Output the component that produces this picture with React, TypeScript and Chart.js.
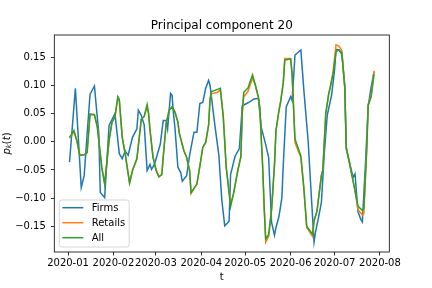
import React, { useEffect, useRef } from 'react';
import { Chart, registerables } from 'chart.js';

Chart.register(...registerables);

const TITLE = 'Principal component 20';
const X_LABEL = 't';
const SERIES_NAMES = ['Firms', 'Retails', 'All'];
const SERIES_COLORS = ['#1f77b4', '#ff7f0e', '#2ca02c'];
const X_TICK_LABELS = ['2020-01', '2020-02', '2020-03', '2020-04', '2020-05', '2020-06', '2020-07', '2020-08'];
const Y_TICKS = [-0.15, -0.1, -0.05, 0, 0.05, 0.1, 0.15];

const FIRMS_DATES = [
  '2020-01-02', '2020-01-06', '2020-01-10', '2020-01-12', '2020-01-16', '2020-01-19', '2020-01-22', '2020-01-23',
  '2020-01-26', '2020-01-29', '2020-02-02', '2020-02-05', '2020-02-07', '2020-02-09', '2020-02-11', '2020-02-14',
  '2020-02-17', '2020-02-18', '2020-02-20', '2020-02-22', '2020-02-24', '2020-02-26', '2020-02-27', '2020-02-29',
  '2020-03-02', '2020-03-04', '2020-03-06', '2020-03-08', '2020-03-09', '2020-03-11', '2020-03-12', '2020-03-13',
  '2020-03-14', '2020-03-16', '2020-03-18', '2020-03-19', '2020-03-22', '2020-03-24', '2020-03-27', '2020-03-29',
  '2020-03-31', '2020-04-02', '2020-04-04', '2020-04-06', '2020-04-07', '2020-04-10', '2020-04-13', '2020-04-15',
  '2020-04-17', '2020-04-20', '2020-04-21', '2020-04-24', '2020-04-27', '2020-04-29', '2020-05-02', '2020-05-04',
  '2020-05-07', '2020-05-09', '2020-05-10', '2020-05-12', '2020-05-15', '2020-05-17', '2020-05-19', '2020-05-21',
  '2020-05-22', '2020-05-24', '2020-05-26', '2020-05-27', '2020-05-29', '2020-06-01', '2020-06-02', '2020-06-04',
  '2020-06-08', '2020-06-10', '2020-06-13', '2020-06-15', '2020-06-17', '2020-06-18', '2020-06-20', '2020-06-22',
  '2020-06-24', '2020-06-26', '2020-06-29', '2020-07-01', '2020-07-02', '2020-07-04', '2020-07-06', '2020-07-08',
  '2020-07-09', '2020-07-13', '2020-07-14', '2020-07-15', '2020-07-17', '2020-07-19', '2020-07-20', '2020-07-22',
  '2020-07-24', '2020-07-26', '2020-07-28',
];
const FIRMS_VALUES = [
  -0.036, 0.095, -0.081, -0.06, 0.084, 0.099, 0.014, -0.09,
  -0.099, 0.029, 0.05, -0.021, -0.03, -0.016, -0.024, 0.008,
  0.023, 0.056, 0.047, 0.03, -0.051, -0.04, -0.049, -0.04,
  -0.022, -0.004, 0.038, 0.038, 0.023, 0.086, 0.083, 0.05,
  0.025, -0.045, -0.055, -0.07, -0.06, -0.024, 0.017, 0.017,
  0.068, 0.07, 0.095, 0.109, 0.1, 0.035, -0.024, -0.103,
  -0.149, -0.141, -0.058, -0.026, -0.012, 0.064, 0.068, 0.071,
  0.076, 0.077, 0.076, 0.025, -0.005, -0.028, -0.143, -0.166,
  -0.152, -0.133, -0.1, -0.04, 0.062, 0.08, 0.073, 0.154,
  0.163, 0.093, 0.0, -0.09, -0.178, -0.16, -0.135, -0.108,
  -0.02, 0.047, 0.083, 0.127, 0.164, 0.163, 0.155, 0.1,
  -0.012, -0.056, -0.062, -0.057, -0.124, -0.138, -0.142, -0.045,
  0.064, 0.097, 0.125,
];

const AGG_DATES = [
  '2020-01-02', '2020-01-05', '2020-01-07', '2020-01-09', '2020-01-12', '2020-01-14', '2020-01-16', '2020-01-19',
  '2020-01-21', '2020-01-24', '2020-01-26', '2020-01-29', '2020-01-31', '2020-02-02', '2020-02-04', '2020-02-05',
  '2020-02-07', '2020-02-09', '2020-02-12', '2020-02-14', '2020-02-17', '2020-02-18', '2020-02-20', '2020-02-22',
  '2020-02-24', '2020-02-25', '2020-02-26', '2020-02-28', '2020-03-01', '2020-03-03', '2020-03-05', '2020-03-06',
  '2020-03-08', '2020-03-10', '2020-03-12', '2020-03-14', '2020-03-16', '2020-03-17', '2020-03-20', '2020-03-22',
  '2020-03-24', '2020-03-25', '2020-03-29', '2020-03-31', '2020-04-02', '2020-04-04', '2020-04-06', '2020-04-07',
  '2020-04-08', '2020-04-12', '2020-04-14', '2020-04-16', '2020-04-18', '2020-04-21', '2020-04-23', '2020-04-26',
  '2020-04-28', '2020-04-29', '2020-04-30', '2020-05-03', '2020-05-04', '2020-05-06', '2020-05-08', '2020-05-10',
  '2020-05-11', '2020-05-13', '2020-05-14', '2020-05-15', '2020-05-17', '2020-05-19', '2020-05-21', '2020-05-22',
  '2020-05-24', '2020-05-25', '2020-05-27', '2020-05-28', '2020-06-01', '2020-06-02', '2020-06-04', '2020-06-08',
  '2020-06-10', '2020-06-12', '2020-06-16', '2020-06-17', '2020-06-19', '2020-06-22', '2020-06-23', '2020-06-25',
  '2020-06-27', '2020-06-28', '2020-06-30', '2020-07-02', '2020-07-04', '2020-07-06', '2020-07-08', '2020-07-09',
  '2020-07-12', '2020-07-15', '2020-07-17', '2020-07-20', '2020-07-21', '2020-07-23', '2020-07-24', '2020-07-26',
  '2020-07-28',
];
const RETAILS_VALUES = [
  0.006, 0.018, 0.002, -0.024, -0.023, -0.019, 0.049, 0.048,
  0.026, -0.045, -0.075, 0.002, 0.035, 0.044, 0.078, 0.073,
  0.008, -0.021, -0.073, -0.051, -0.03, -0.007, 0.04, 0.045,
  0.062, 0.05, 0.02, -0.027, -0.048, -0.062, -0.058, -0.027,
  0.032, 0.056, 0.062, 0.053, 0.035, 0.015, -0.015, -0.028,
  -0.051, -0.092, -0.075, -0.043, -0.01, -0.001, 0.03, 0.075,
  0.085, 0.088, 0.092, 0.045, -0.045, -0.11, -0.092, -0.05,
  -0.027, 0.05, 0.08, 0.09, 0.098, 0.113, 0.1, 0.079,
  0.058, -0.05, -0.12, -0.178, -0.168, -0.12, -0.04, 0.02,
  0.055, 0.068, 0.105, 0.148, 0.148, 0.121, -0.002, -0.028,
  -0.081, -0.152, -0.168, -0.14, -0.123, -0.06, -0.05, 0.05,
  0.085, 0.097, 0.124, 0.172, 0.17, 0.162, 0.095, -0.01,
  -0.048, -0.087, -0.12, -0.13, -0.128, -0.012, 0.066, 0.083,
  0.126,
];
const ALL_VALUES = [
  0.008, 0.02, 0.002, -0.024, -0.023, -0.019, 0.049, 0.048,
  0.026, -0.045, -0.075, 0.002, 0.035, 0.044, 0.08, 0.075,
  0.008, -0.021, -0.073, -0.051, -0.03, -0.007, 0.04, 0.045,
  0.066, 0.05, 0.02, -0.027, -0.05, -0.062, -0.058, -0.027,
  0.032, 0.056, 0.062, 0.053, 0.035, 0.015, -0.015, -0.028,
  -0.051, -0.09, -0.075, -0.043, -0.01, -0.001, 0.03, 0.077,
  0.089, 0.093, 0.095, 0.045, -0.045, -0.115, -0.092, -0.05,
  -0.027, 0.055, 0.088, 0.096, 0.104, 0.119, 0.1, 0.079,
  0.06, -0.05, -0.12, -0.172, -0.165, -0.12, -0.04, 0.02,
  0.055, 0.068, 0.105, 0.145, 0.147, 0.121, 0.005, -0.025,
  -0.081, -0.15, -0.164, -0.14, -0.123, -0.06, -0.05, 0.05,
  0.085, 0.095, 0.12, 0.16, 0.163, 0.158, 0.095, -0.01,
  -0.048, -0.087, -0.114, -0.122, -0.118, -0.012, 0.065, 0.08,
  0.12,
];

const FONT = 'DejaVu Sans';
const EPOCH = Date.UTC(2020, 0, 1);
const toDay = (s: string) => {
  const [y, m, d] = s.split('-').map(Number);
  return (Date.UTC(y, m - 1, d || 1) - EPOCH) / 86400000;
};
const fmtY = (v: number) => {
  const r = Math.round(v * 100) / 100;
  if (Math.abs(r) < 1e-9) return '0.00';
  return (r < 0 ? '\u2212' : '') + Math.abs(r).toFixed(2);
};

const toPoints = (dates: string[], vals: number[]) => dates.map((d, i) => ({ x: toDay(d), y: vals[i] }));

const decorPlugin = {
  id: 'decor',
  afterDatasetsDraw(chart: any) {
    const { ctx, chartArea: ca } = chart;
    ctx.save();
    // frame
    ctx.strokeStyle = '#000';
    ctx.lineWidth = 0.8;
    ctx.strokeRect(ca.left, ca.top, ca.right - ca.left, ca.bottom - ca.top);

    // legend
    ctx.font = `10px "${FONT}"`;
    const names = chart.data.datasets.map((d: any) => d.label);
    const maxW = Math.max(...names.map((n: string) => ctx.measureText(n).width));
    const bx = ca.left + 5;
    const bh = 47;
    const by = ca.bottom - 5 - bh;
    const textX = bx + 32.4;
    const bw = textX - bx + maxW + 4;
    const r = 2.5;
    ctx.beginPath();
    ctx.moveTo(bx + r, by);
    ctx.arcTo(bx + bw, by, bx + bw, by + bh, r);
    ctx.arcTo(bx + bw, by + bh, bx, by + bh, r);
    ctx.arcTo(bx, by + bh, bx, by, r);
    ctx.arcTo(bx, by, bx + bw, by, r);
    ctx.closePath();
    ctx.fillStyle = 'rgba(255,255,255,0.8)';
    ctx.fill();
    ctx.strokeStyle = 'rgba(204,204,204,0.8)';
    ctx.lineWidth = 1;
    ctx.stroke();
    chart.data.datasets.forEach((d: any, i: number) => {
      const y = by + 7.7 + i * 15;
      ctx.strokeStyle = d.borderColor;
      ctx.lineWidth = 1.5;
      ctx.beginPath();
      ctx.moveTo(bx + 3, y);
      ctx.lineTo(bx + 24, y);
      ctx.stroke();
      ctx.fillStyle = '#000';
      ctx.textAlign = 'left';
      ctx.textBaseline = 'middle';
      ctx.fillText(d.label, textX, y + 0.5);
    });

    // title
    ctx.fillStyle = '#000';
    ctx.font = `12px "${FONT}"`;
    ctx.textAlign = 'center';
    ctx.textBaseline = 'alphabetic';
    ctx.fillText(TITLE, (ca.left + ca.right) / 2, ca.top - 6);

    // y label p_k(t)
    const parts = [
      { t: 'p', font: `italic 10px "${FONT}"`, dy: 0 },
      { t: 'k', font: `italic 7px "${FONT}"`, dy: 1.8 },
      { t: '(', font: `10px "${FONT}"`, dy: 0 },
      { t: 't', font: `italic 10px "${FONT}"`, dy: 0 },
      { t: ')', font: `10px "${FONT}"`, dy: 0 },
    ];
    let total = 0;
    const widths = parts.map((p) => {
      ctx.font = p.font;
      const w = ctx.measureText(p.t).width;
      total += w;
      return w;
    });
    ctx.translate(9.5, (ca.top + ca.bottom) / 2);
    ctx.rotate(-Math.PI / 2);
    ctx.textAlign = 'left';
    ctx.textBaseline = 'alphabetic';
    let x = -total / 2;
    parts.forEach((p, i) => {
      ctx.font = p.font;
      ctx.fillText(p.t, x, p.dy);
      x += widths[i];
    });
    ctx.restore();
  },
};

export default function App() {
  const ref = useRef<HTMLCanvasElement | null>(null);
  useEffect(() => {
    if (!ref.current) return;
    const allDays = [...FIRMS_DATES, ...AGG_DATES].map(toDay);
    const dmin = Math.min(...allDays);
    const dmax = Math.max(...allDays);
    const dpad = (dmax - dmin) * 0.05;
    const allVals = [...FIRMS_VALUES, ...RETAILS_VALUES, ...ALL_VALUES];
    const vmin = Math.min(...allVals);
    const vmax = Math.max(...allVals);
    const vpad = (vmax - vmin) * 0.05;
    const tickMap = new Map<number, string>();
    X_TICK_LABELS.forEach((l) => tickMap.set(toDay(l), l));

    const series = [
      toPoints(FIRMS_DATES, FIRMS_VALUES),
      toPoints(AGG_DATES, RETAILS_VALUES),
      toPoints(AGG_DATES, ALL_VALUES),
    ];

    const chart = new Chart(ref.current, {
      type: 'line',
      data: {
        datasets: series.map((data, i) => ({
          label: SERIES_NAMES[i],
          data,
          borderColor: SERIES_COLORS[i],
          backgroundColor: SERIES_COLORS[i],
          borderWidth: 1.5,
          pointRadius: 0,
          tension: 0,
          fill: false,
          order: 2 - i,
        })),
      },
      options: {
        animation: false,
        responsive: false,
        devicePixelRatio: 1,
        layout: { padding: { top: 35, right: 42.7, left: 0, bottom: 0 } },
        plugins: {
          legend: { display: false },
          title: { display: false },
          tooltip: { enabled: false },
        },
        scales: {
          x: {
            type: 'linear',
            min: dmin - dpad,
            max: dmax + dpad,
            afterFit: (axis: any) => {
              axis.height = 36;
            },
            afterBuildTicks: (axis: any) => {
              axis.ticks = X_TICK_LABELS.map((l) => ({ value: toDay(l) }));
            },
            ticks: {
              autoSkip: false,
              maxRotation: 0,
              minRotation: 0,
              padding: 2,
              color: '#000',
              font: { family: FONT, size: 10 },
              callback: (v: any) => tickMap.get(Number(v)) ?? '',
            },
            grid: {
              display: true,
              drawOnChartArea: false,
              drawTicks: true,
              tickLength: 3.5,
              color: '#000',
              lineWidth: 0.8,
            },
            border: { display: false },
            title: {
              display: true,
              text: X_LABEL,
              color: '#000',
              font: { family: FONT, size: 10 },
              padding: { top: 0, bottom: 4.5 },
            },
          },
          y: {
            type: 'linear',
            min: vmin - vpad,
            max: vmax + vpad,
            afterFit: (axis: any) => {
              axis.width = 54.3;
            },
            afterBuildTicks: (axis: any) => {
              axis.ticks = Y_TICKS.map((v) => ({ value: v }));
            },
            ticks: {
              padding: 5,
              color: '#000',
              font: { family: FONT, size: 10 },
              callback: (v: any) => fmtY(Number(v)),
            },
            grid: {
              display: true,
              drawOnChartArea: false,
              drawTicks: true,
              tickLength: 3.5,
              color: '#000',
              lineWidth: 0.8,
            },
            border: { display: false },
          },
        },
      },
      plugins: [decorPlugin],
    } as any);
    return () => chart.destroy();
  }, []);

  return (
    <div style={{ position: 'fixed', left: 0, top: 0, width: 432, height: 288, background: '#fff' }}>
      <canvas ref={ref} width={432} height={288} style={{ width: 432, height: 288, display: 'block' }} />
    </div>
  );
}
